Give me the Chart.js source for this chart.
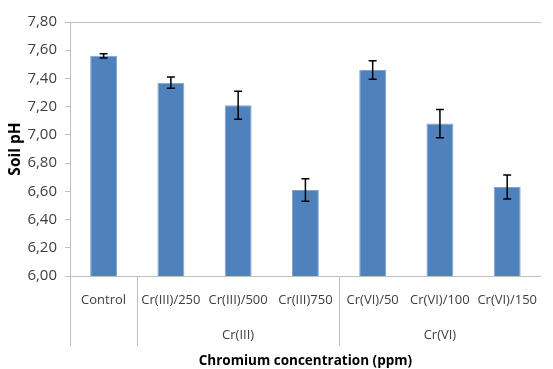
<!DOCTYPE html>
<html>
<head>
<meta charset="utf-8">
<script src="https://cdn.jsdelivr.net/npm/chart.js@4/dist/chart.umd.min.js"></script>
<style>
  html, body { margin: 0; padding: 0; background: #fff; }
  #wrap { width: 553px; height: 369px; }
</style>
</head>
<body>
<div id="wrap"><canvas id="phChart"></canvas></div>
<script>
const categories = ['Control', 'Cr(III)/250', 'Cr(III)/500', 'Cr(III)750', 'Cr(VI)/50', 'Cr(VI)/100', 'Cr(VI)/150'];
const groups = ['', 'Cr(III)', 'Cr(III)', 'Cr(III)', 'Cr(VI)', 'Cr(VI)', 'Cr(VI)'];
const phValues = [7.56, 7.37, 7.21, 6.61, 7.46, 7.08, 6.63];
const phErrors = [0.015, 0.04, 0.10, 0.08, 0.065, 0.10, 0.085];

const textFont = "'Open Sans', 'Noto Sans', sans-serif";
const textColor = '#404040';
const lineGray = '#bfbfbf';

// error bars, category separators and the group row under the labels
const extras = {
    id: 'extras',
    afterDatasetsDraw(chart) {
        const ctx = chart.ctx;
        const x = chart.scales.x;
        const y = chart.scales.y;
        ctx.save();
        ctx.strokeStyle = '#000';
        ctx.lineWidth = 1.5;
        phValues.forEach((v, i) => {
            const px = x.getPixelForValue(i);
            const top = y.getPixelForValue(v + phErrors[i]);
            const bot = y.getPixelForValue(v - phErrors[i]);
            ctx.beginPath();
            ctx.moveTo(px, top); ctx.lineTo(px, bot);
            ctx.moveTo(px - 4, top); ctx.lineTo(px + 4, top);
            ctx.moveTo(px - 4, bot); ctx.lineTo(px + 4, bot);
            ctx.stroke();
        });
        ctx.restore();
    },
    afterDraw(chart) {
        const ctx = chart.ctx;
        const x = chart.scales.x;
        const step = (x.right - x.left) / categories.length;
        const base = chart.chartArea.bottom;
        ctx.save();
        // separators where a group starts or ends
        ctx.strokeStyle = lineGray;
        ctx.lineWidth = 1;
        groups.forEach((g, i) => {
            if (i === 0 || g !== groups[i - 1]) {
                const sx = Math.round(x.getPixelForValue(i) - step / 2) + 0.5;
                ctx.beginPath();
                ctx.moveTo(sx, base);
                ctx.lineTo(sx, base + 70);
                ctx.stroke();
            }
        });
        // group names centred on their categories
        ctx.fillStyle = textColor;
        ctx.font = '13px ' + textFont;
        ctx.textAlign = 'center';
        ctx.textBaseline = 'middle';
        let start = 0;
        for (let i = 1; i <= groups.length; i++) {
            if (i === groups.length || groups[i] !== groups[start]) {
                if (groups[start]) {
                    const cx = (x.getPixelForValue(start) + x.getPixelForValue(i - 1)) / 2;
                    ctx.fillText(groups[start], cx, base + 59);
                }
                start = i;
            }
        }
        ctx.restore();
    }
};

new Chart(document.getElementById('phChart'), {
    type: 'bar',
    data: {
        labels: categories,
        datasets: [{
            label: 'Soil pH',
            data: phValues,
            backgroundColor: '#4f81bd',
            borderColor: '#7ea3d0',
            borderWidth: 1,
            barPercentage: 0.4,
            categoryPercentage: 1
        }]
    },
    options: {
        responsive: true,
        maintainAspectRatio: false,
        animation: false,
        layout: { padding: { top: 22, right: 0, left: 0, bottom: 0 } },
        plugins: {
            legend: { display: false },
            tooltip: { enabled: false }
        },
        scales: {
            x: {
                afterFit: s => { s.height = 93; },
                grid: { display: false, drawTicks: false },
                border: { display: true, color: lineGray },
                ticks: {
                    color: textColor,
                    font: { family: textFont, size: 13 },
                    padding: 16,
                    maxRotation: 0,
                    autoSkip: false
                },
                title: {
                    display: true,
                    text: 'Chromium concentration (ppm)',
                    color: '#000',
                    font: { family: textFont, size: 13.5, weight: 'bold' },
                    padding: { top: 4, bottom: 0 }
                }
            },
            y: {
                min: 6,
                max: 7.8,
                afterFit: s => { s.width = 70; },
                grid: {
                    drawOnChartArea: true,
                    color: c => (c.tick && Math.abs(c.tick.value - 7.8) < 1e-6) ? lineGray : 'rgba(0,0,0,0)',
                    tickColor: lineGray,
                    tickLength: 5
                },
                border: { display: true, color: lineGray },
                ticks: {
                    stepSize: 0.2,
                    color: textColor,
                    font: { family: textFont, size: 15 },
                    padding: 8,
                    callback: v => v.toFixed(2).replace('.', ',')
                },
                title: {
                    display: true,
                    text: 'Soil pH',
                    color: '#000',
                    font: { family: textFont, size: 15.5, weight: 'bold' },
                    padding: { top: 6, bottom: 0 }
                }
            }
        }
    },
    plugins: [extras]
});
</script>
</body>
</html>
